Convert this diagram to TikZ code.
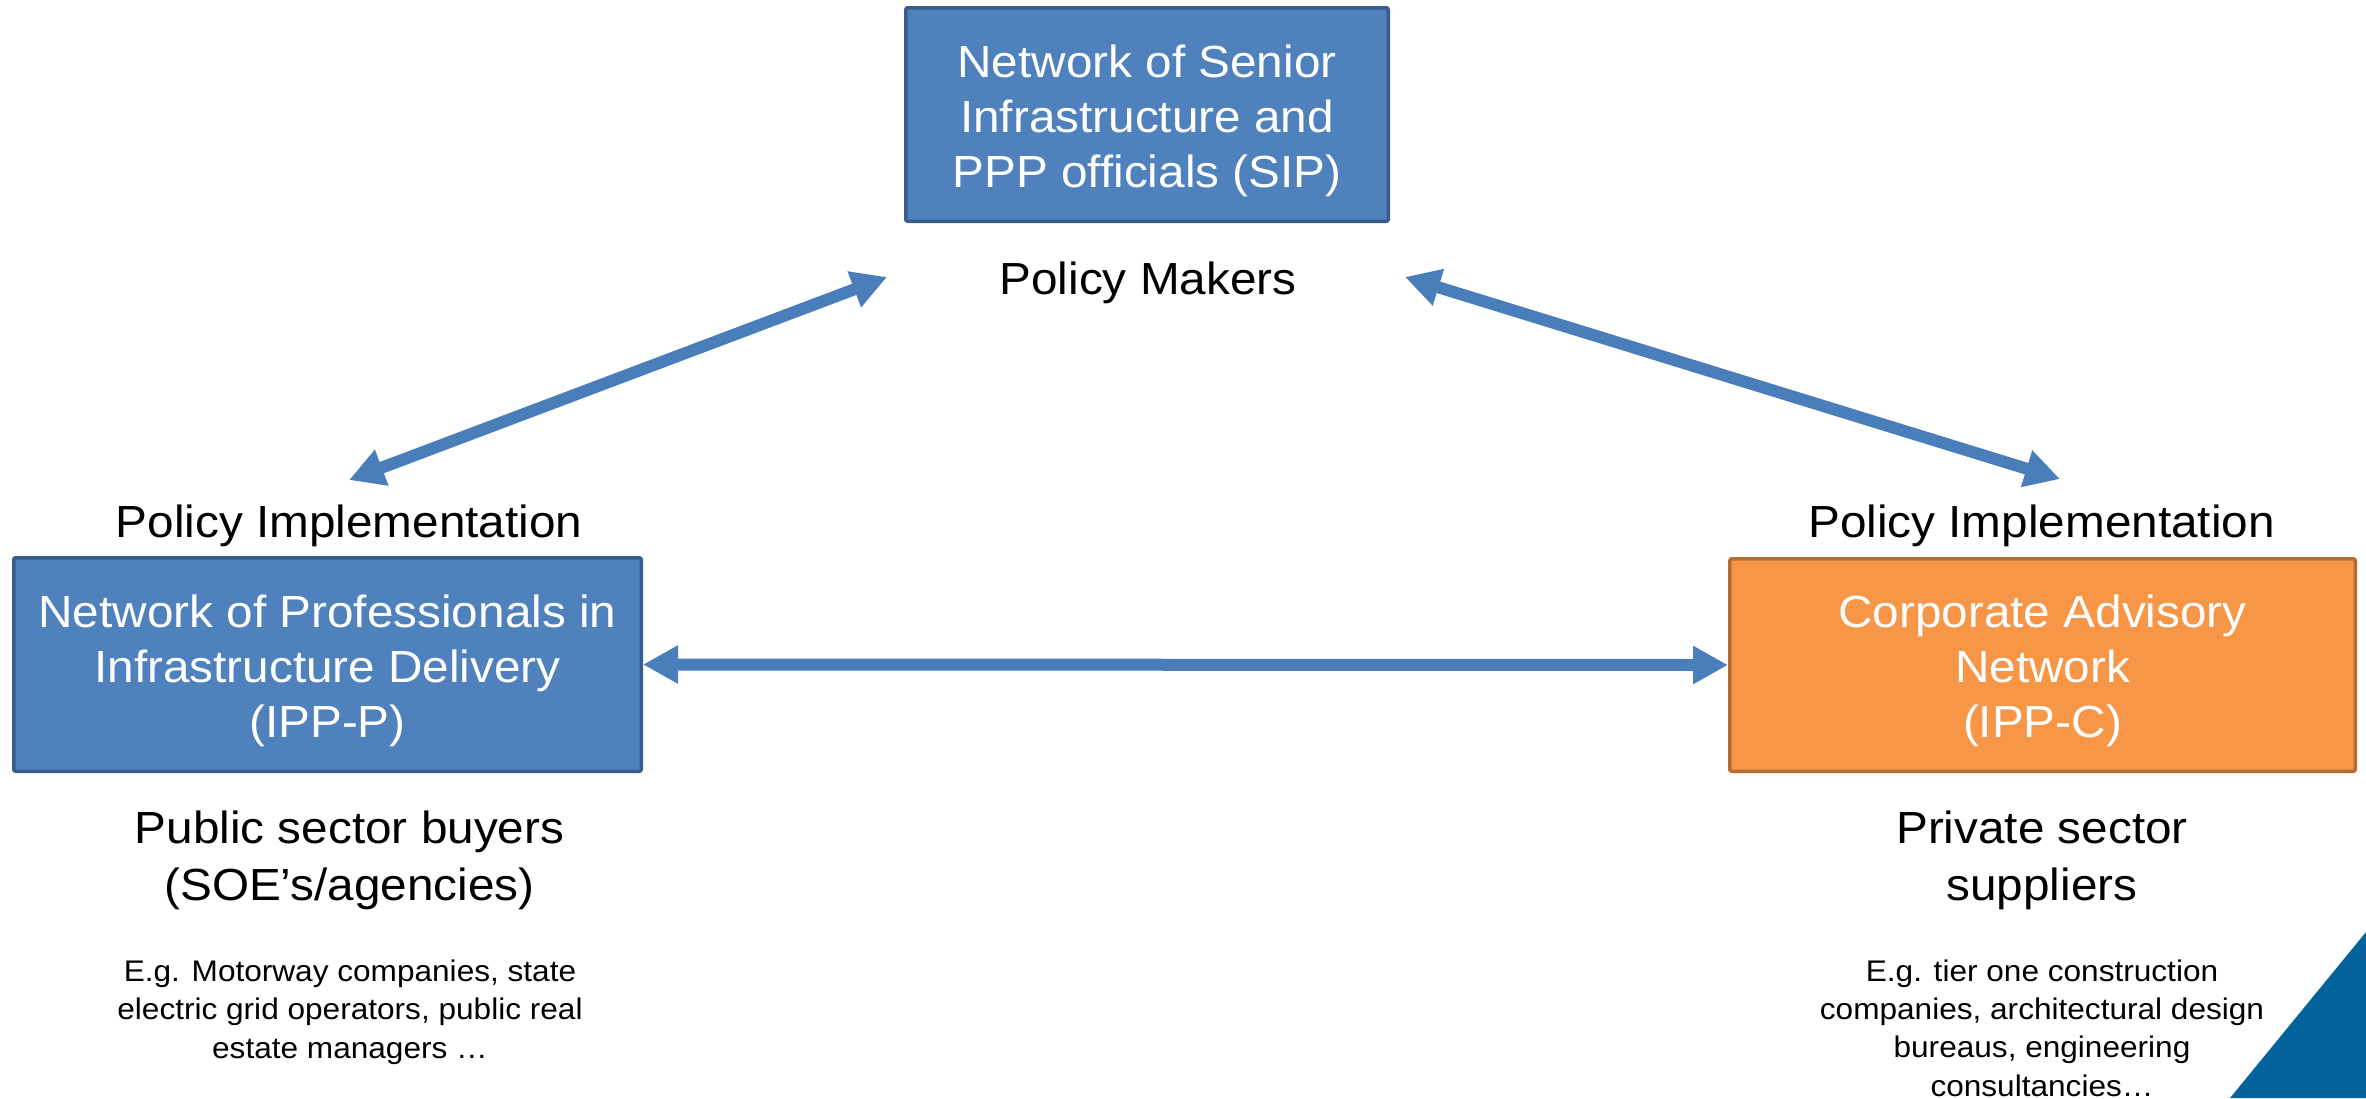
\documentclass[tikz,border=0pt]{standalone}
\usepackage{fontspec}
\setmainfont{Liberation Sans}[FakeStretch=1.06]
\usetikzlibrary{arrows.meta}
\definecolor{boxblue}{HTML}{4F81BD}
\definecolor{boxblueline}{HTML}{385D8A}
\definecolor{boxorange}{HTML}{F79646}
\definecolor{boxorangeline}{HTML}{B66D31}
\definecolor{linkblue}{HTML}{4A7EBB}
\definecolor{cornerblue}{HTML}{03639C}
% taller first line so the three lines sit a little lower in each box
\newcommand{\firstline}{\rule{0pt}{45pt}}
\begin{document}
\begin{tikzpicture}[x=1pt,y=-1pt,
  netbox/.style={draw, line width=3.5pt, rounded corners=2pt, inner sep=0pt,
    text=white, align=center, font=\fontsize{45}{55}\selectfont},
  bluebox/.style={netbox, fill=boxblue, draw=boxblueline},
  orangebox/.style={netbox, fill=boxorange, draw=boxorangeline},
  role/.style={align=center, inner sep=0pt, anchor=base, font=\fontsize{45}{57}\selectfont},
  example/.style={align=center, inner sep=0pt, anchor=base, font=\fontsize{29.8}{38.3}\selectfont},
  tip/.tip={Triangle[width=36pt,length=35pt]},
  link/.style={draw=linkblue, fill=linkblue, line width=12pt, tip-tip}
]
\useasboundingbox (0,0) rectangle (2366,1098);

% the three networks
\node[bluebox, minimum width=482.5pt, minimum height=213.5pt] (sip) at (1147,114.5)
  {\firstline Network of Senior\\Infrastructure and\\PPP officials (SIP)};
\node[bluebox, minimum width=627.5pt, minimum height=213.5pt] (ippp) at (327.5,664.5)
  {\firstline Network of Professionals in\\Infrastructure Delivery\\(IPP-P)};
\node[orangebox, minimum width=625.5pt, minimum height=212.5pt] (ippc) at (2042.5,665)
  {\firstline Corporate Advisory\\Network\\(IPP-C)};

% roles (multi-line nodes are anchored on their last baseline)
\node[role] (makers) at (1148,294) {Policy Makers};
\node[role] (implP) at (349,537) {Policy Implementation};
\node[role] (implC) at (2041.5,537) {Policy Implementation};
\node[role] (buyers) at (349.5,900) {Public sector buyers\\(SOE’s/agencies)};
\node[role] (suppliers) at (2042,900) {Private sector\\suppliers};

% examples
\node[example] (exP) at (350,1058)
  {E.g. Motorway companies, state\\electric grid operators, public real\\estate managers …};
\node[example] (exC) at (2042,1096)
  {E.g. tier one construction\\companies, architectural design\\bureaus, engineering\\consultancies…};

% connector ends
\coordinate (lpLow) at (349,480);
\coordinate (lpHigh) at (887,277);
\coordinate (rpHigh) at (1405,277);
\coordinate (rpLow) at (2060,479);

% links
\draw[link] (lpLow) -- (lpHigh);
\draw[link] (rpHigh) -- (rpLow);
\draw[link] (ippp.east) -- (ippc.west);

% corner accent
\fill[cornerblue] (2230,1098) -- (2366,1098) -- (2366,932) -- cycle;
\end{tikzpicture}
\end{document}
